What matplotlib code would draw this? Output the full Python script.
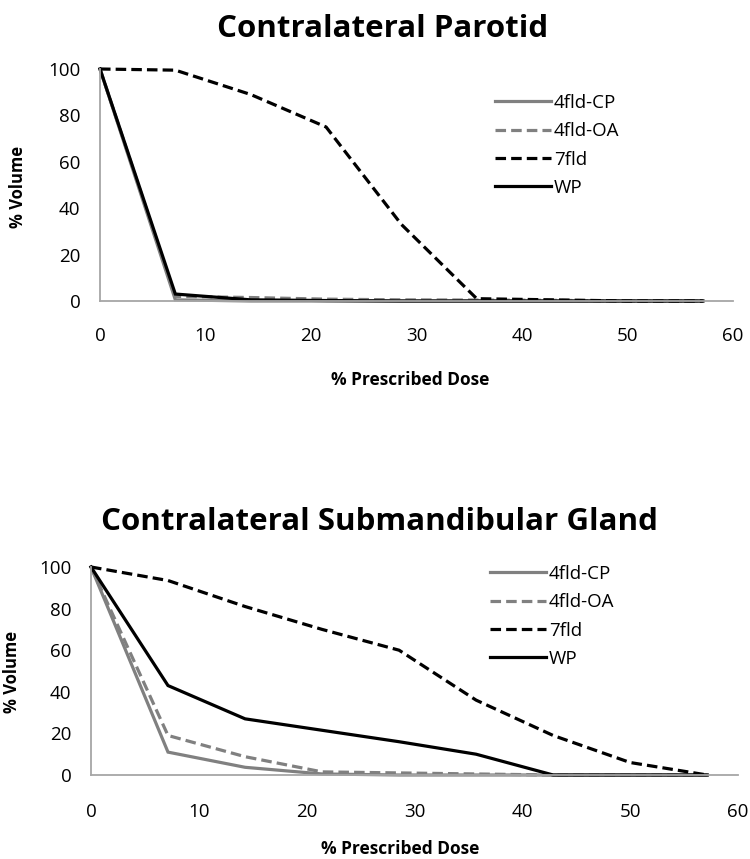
import matplotlib
matplotlib.use("Agg")
import matplotlib.pyplot as plt

# ---- data ----
dose = [0, 7.14, 14.29, 21.43, 28.57, 35.71, 42.86, 50.0, 57.14]
series_names = ["4fld-CP", "4fld-OA", "7fld", "WP"]

parotid_4fld_cp = [100, 0.5, 0, 0, 0, 0, 0, 0, 0]
parotid_4fld_oa = [100, 2, 1.5, 0.8, 0.5, 0.4, 0.3, 0, 0]
parotid_7fld = [100, 99.5, 89, 75, 33, 1, 0.5, 0, 0]
parotid_wp = [100, 3, 0.5, 0.2, 0, 0, 0, 0, 0]

smg_4fld_cp = [100, 11, 3.7, 0.5, 0, 0, 0, 0, 0]
smg_4fld_oa = [100, 19, 8.8, 1.5, 1, 0.5, 0, 0, 0]
smg_7fld = [100, 93.5, 81, 70, 60, 36, 19, 6, 0]
smg_wp = [100, 43, 27, 21.5, 16, 10, 0, 0, 0]

x_ticks = [0, 10, 20, 30, 40, 50, 60]
y_ticks = [0, 20, 40, 60, 80, 100]

# ---- style ----
W, H = 750, 859
fig = plt.figure(figsize=(W / 100, H / 100), dpi=100)
tick_font = "Open Sans"
GRAY = "#808080"
LW = 2.3
styles = [
    dict(color=GRAY, ls="-"),
    dict(color=GRAY, dashes=(3.3, 1.6)),
    dict(color="black", dashes=(3.3, 1.6)),
    dict(color="black", ls="-"),
]


def make_axes(rect, data, title, title_xy, xlabel_xy, ylabel_xy, legend_anchor, xpad, ypad):
    ax = fig.add_axes(rect)
    for name, y, st in zip(series_names, data, styles):
        ax.plot(dose, y, lw=LW, label=name, clip_on=False, solid_joinstyle="miter", **st)
    ax.set_xlim(0, 60)
    ax.set_ylim(0, 100)
    ax.set_xticks(x_ticks)
    ax.set_yticks(y_ticks)
    ax.tick_params(length=0, labelsize=13.5, colors="black")
    ax.tick_params(axis="x", pad=xpad)
    ax.tick_params(axis="y", pad=ypad)
    for lab in ax.get_xticklabels() + ax.get_yticklabels():
        lab.set_fontfamily(tick_font)
    for s in ["top", "right"]:
        ax.spines[s].set_visible(False)
    for s in ["left", "bottom"]:
        ax.spines[s].set_color("#a6a6a6")
        ax.spines[s].set_linewidth(1.3)
    leg = ax.legend(loc="upper left", bbox_to_anchor=legend_anchor,
                    bbox_transform=fig.transFigure, frameon=False,
                    handlelength=3.0, handletextpad=0.15, labelspacing=0.55,
                    prop={"family": tick_font, "size": 13.5}, borderpad=0, borderaxespad=0)
    for t in leg.get_texts():
        t.set_color("black")
    fig.text(title_xy[0] / W, 1 - title_xy[1] / H, title, ha="center", va="center",
             fontsize=22.5, fontweight="bold", family="Open Sans")
    fig.text(xlabel_xy[0] / W, 1 - xlabel_xy[1] / H, "% Prescribed Dose", ha="center", va="center",
             fontsize=12.5, fontweight="bold", family="Open Sans")
    fig.text(ylabel_xy[0] / W, 1 - ylabel_xy[1] / H, "% Volume", ha="center", va="center",
             rotation=90, fontsize=12, fontweight="bold", family="Open Sans")
    return ax


make_axes([100 / W, 1 - 301 / H, 633 / W, 232 / H],
          [parotid_4fld_cp, parotid_4fld_oa, parotid_7fld, parotid_wp],
          "Contralateral Parotid", (383, 29), (410, 380), (18, 187),
          (495 / W, 1 - 94 / H), 19, 14)

make_axes([91 / W, 1 - 775 / H, 647 / W, 208 / H],
          [smg_4fld_cp, smg_4fld_oa, smg_7fld, smg_wp],
          "Contralateral Submandibular Gland", (379, 522), (400, 849), (12, 672),
          (490 / W, 1 - 565 / H), 20, 14)

fig.savefig("out.png", dpi=100, facecolor="white")
